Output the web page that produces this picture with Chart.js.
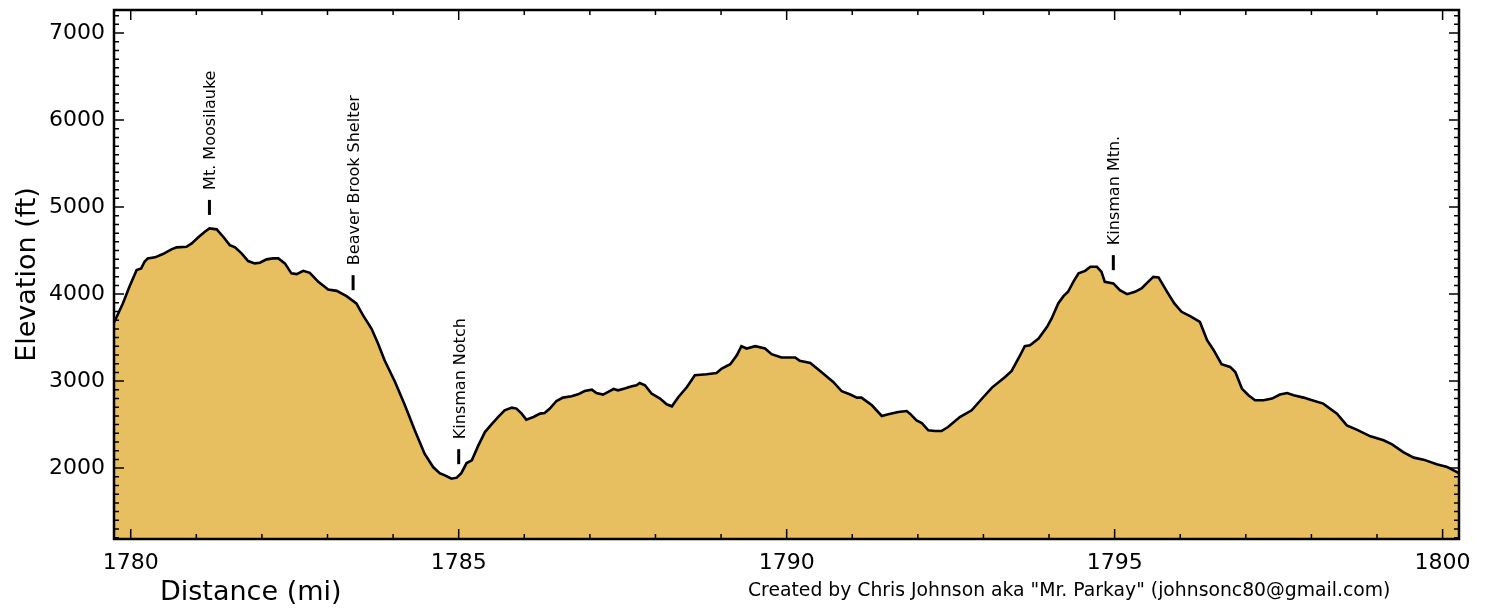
<!DOCTYPE html>
<html>
<head>
<meta charset="utf-8">
<script src="https://cdn.jsdelivr.net/npm/chart.js@4/dist/chart.umd.min.js"></script>
<style>
  html, body { margin: 0; padding: 0; background: #fff; }
  #wrap { width: 1494px; height: 610px; position: relative; }
</style>
</head>
<body>
<div id="wrap"><canvas id="profileChart"></canvas></div>
<script>
// trail profile, distance (mi) vs elevation (ft)
const miles = [
  1779.75, 1779.88, 1779.98, 1780.09, 1780.16, 1780.21, 1780.26, 1780.37, 1780.49, 1780.62,
  1780.70, 1780.85, 1780.93, 1781.03, 1781.13, 1781.20, 1781.31, 1781.41, 1781.51, 1781.59,
  1781.69, 1781.79, 1781.89, 1781.97, 1782.07, 1782.17, 1782.25, 1782.35, 1782.45, 1782.53,
  1782.63, 1782.73, 1782.86, 1783.01, 1783.14, 1783.29, 1783.44, 1783.54, 1783.67, 1783.77,
  1783.87, 1784.03, 1784.18, 1784.33, 1784.48, 1784.61, 1784.71, 1784.79, 1784.89, 1784.97,
  1785.04, 1785.12, 1785.20, 1785.30, 1785.40, 1785.50, 1785.60, 1785.70, 1785.81, 1785.88,
  1785.96, 1786.03, 1786.14, 1786.24, 1786.31, 1786.39, 1786.49, 1786.59, 1786.72, 1786.82,
  1786.92, 1787.03, 1787.10, 1787.20, 1787.28, 1787.36, 1787.43, 1787.53, 1787.64, 1787.71,
  1787.76, 1787.84, 1787.94, 1788.07, 1788.17, 1788.25, 1788.35, 1788.48, 1788.60, 1788.78,
  1788.93, 1789.01, 1789.14, 1789.24, 1789.31, 1789.39, 1789.52, 1789.67, 1789.77, 1789.92,
  1790.13, 1790.20, 1790.36, 1790.51, 1790.71, 1790.84, 1790.97, 1791.07, 1791.14, 1791.30,
  1791.45, 1791.55, 1791.70, 1791.83, 1791.88, 1791.98, 1792.06, 1792.16, 1792.26, 1792.36,
  1792.46, 1792.64, 1792.82, 1793.00, 1793.13, 1793.33, 1793.43, 1793.56, 1793.63, 1793.71,
  1793.84, 1793.97, 1794.04, 1794.14, 1794.22, 1794.29, 1794.37, 1794.45, 1794.55, 1794.63,
  1794.73, 1794.80, 1794.85, 1794.98, 1795.08, 1795.19, 1795.31, 1795.41, 1795.51, 1795.59,
  1795.67, 1795.80, 1795.91, 1796.02, 1796.15, 1796.30, 1796.41, 1796.51, 1796.63, 1796.76,
  1796.84, 1796.94, 1797.04, 1797.14, 1797.27, 1797.40, 1797.52, 1797.63, 1797.73, 1797.88,
  1798.01, 1798.18, 1798.39, 1798.54, 1798.69, 1798.90, 1799.10, 1799.23, 1799.40, 1799.56,
  1799.71, 1799.91, 1800.07, 1800.22, 1800.26
];
const elevation = [
  3680, 3892, 4083, 4276, 4295, 4371, 4410, 4422, 4460, 4514,
  4537, 4544, 4583, 4652, 4716, 4755, 4744, 4659, 4563, 4537,
  4468, 4379, 4353, 4360, 4399, 4410, 4410, 4353, 4238, 4229,
  4267, 4244, 4141, 4053, 4037, 3976, 3892, 3758, 3604, 3432,
  3240, 2990, 2722, 2434, 2166, 2012, 1942, 1916, 1878, 1890,
  1942, 2058, 2089, 2261, 2414, 2503, 2587, 2664, 2695, 2684,
  2626, 2557, 2587, 2626, 2633, 2684, 2771, 2810, 2825, 2848,
  2886, 2902, 2863, 2845, 2875, 2909, 2894, 2914, 2940, 2952,
  2978, 2952, 2856, 2799, 2733, 2710, 2817, 2932, 3067, 3078,
  3093, 3144, 3194, 3297, 3401, 3374, 3401, 3374, 3309, 3271,
  3271, 3232, 3209, 3116, 2990, 2883, 2845, 2810, 2810, 2722,
  2599, 2618, 2645, 2656, 2626, 2549, 2518, 2434, 2426, 2426,
  2472, 2587, 2664, 2817, 2925, 3047, 3116, 3297, 3401, 3412,
  3489, 3623, 3720, 3892, 3976, 4026, 4141, 4238, 4267, 4314,
  4314, 4256, 4141, 4122, 4045, 3999, 4026, 4065, 4141, 4198,
  4191, 4026, 3892, 3796, 3746, 3680, 3470, 3355, 3194, 3163,
  3105, 2914, 2837, 2779, 2779, 2799, 2845, 2863, 2837, 2810,
  2779, 2741, 2626, 2491, 2442, 2365, 2319, 2273, 2184, 2120,
  2097, 2043, 2012, 1954, 1939
];

// landmarks along the trail
const landmarkNames = ['Mt. Moosilauke', 'Beaver Brook Shelter', 'Kinsman Notch', 'Kinsman Mtn.'];
const landmarkMiles = [1781.2, 1783.39, 1785.0, 1794.98];
const landmarkElev = [4910, 4045, 2045, 4275];

// axis ticks
const xTicks = [1780, 1785, 1790, 1795, 1800];
const yTicks = [2000, 3000, 4000, 5000, 6000, 7000];

const FONT = '"DejaVu Sans", "Liberation Sans", sans-serif';

const points = miles.map(function(m, i) { return {x: m, y: elevation[i]}; });

// frame, inward ticks, landmark labels and captions
const profilePlugin = {
    id: 'profileExtras',
    afterDatasetsDraw(chart) {
        const ctx = chart.ctx;
        const a = chart.chartArea;
        const x = chart.scales.x;
        const y = chart.scales.y;
        ctx.save();

        // minor + major ticks on all four sides
        ctx.strokeStyle = '#000';
        ctx.lineWidth = 1.5;
        ctx.beginPath();
        for (let m = xTicks[0]; m <= xTicks[xTicks.length - 1]; m++) {
            const px = x.getPixelForValue(m);
            const len = xTicks.includes(m) ? 10 : 5;
            ctx.moveTo(px, a.bottom); ctx.lineTo(px, a.bottom - len);
            ctx.moveTo(px, a.top); ctx.lineTo(px, a.top + len);
        }
        for (let e = 1200; e <= 7200; e += 100) {
            const py = y.getPixelForValue(e);
            const len = yTicks.includes(e) ? 10 : 5;
            ctx.moveTo(a.left, py); ctx.lineTo(a.left + len, py);
            ctx.moveTo(a.right, py); ctx.lineTo(a.right - len, py);
        }
        ctx.stroke();

        ctx.lineWidth = 2.5;
        ctx.strokeRect(a.left, a.top, a.right - a.left, a.bottom - a.top);

        // landmark markers
        ctx.fillStyle = '#000';
        ctx.font = '16px ' + FONT;
        ctx.textAlign = 'left';
        ctx.textBaseline = 'alphabetic';
        for (let i = 0; i < landmarkNames.length; i++) {
            const px = x.getPixelForValue(landmarkMiles[i]);
            const py = y.getPixelForValue(landmarkElev[i]);
            ctx.lineWidth = 3;
            ctx.beginPath();
            ctx.moveTo(px, py);
            ctx.lineTo(px, py - 15);
            ctx.stroke();
            ctx.save();
            ctx.translate(px + 6, py - 25);
            ctx.rotate(-Math.PI / 2);
            ctx.fillText(landmarkNames[i], 0, 0);
            ctx.restore();
        }

        // axis caption + credit
        ctx.font = '27px ' + FONT;
        ctx.fillText('Distance (mi)', 160, 600);
        ctx.font = '18.8px ' + FONT;
        ctx.fillText('Created by Chris Johnson aka "Mr. Parkay" (johnsonc80@gmail.com)', 748, 596);
        ctx.restore();
    }
};

const config = {
    type: 'line',
    data: {
        datasets: [{
            data: points,
            borderColor: '#000',
            borderWidth: 2.6,
            backgroundColor: 'rgb(232, 191, 96)',
            fill: 'start',
            pointRadius: 0,
            tension: 0
        }]
    },
    options: {
        responsive: true,
        maintainAspectRatio: false,
        animation: false,
        devicePixelRatio: 1,
        layout: { padding: { top: 10, right: 35, bottom: 0, left: 0 } },
        plugins: { legend: { display: false }, tooltip: { enabled: false } },
        scales: {
            x: {
                type: 'linear',
                min: 1779.745,
                max: 1800.25,
                afterFit: function(s) { s.height = 71; s.paddingLeft = 0; s.paddingRight = 0; },
                afterBuildTicks: function(s) { s.ticks = xTicks.map(function(v) { return {value: v}; }); },
                grid: { display: false, drawTicks: false },
                border: { display: false },
                ticks: {
                    padding: 11,
                    color: '#000',
                    font: { family: FONT, size: 22 },
                    maxRotation: 0,
                    callback: function(v) { return String(v); }
                }
            },
            y: {
                min: 1185,
                max: 7265,
                afterFit: function(s) { s.width = 114; s.paddingTop = 0; s.paddingBottom = 0; },
                afterBuildTicks: function(s) { s.ticks = yTicks.map(function(v) { return {value: v}; }); },
                grid: { display: false, drawTicks: false },
                border: { display: false },
                title: {
                    display: true,
                    text: 'Elevation (ft)',
                    color: '#000',
                    font: { family: FONT, size: 27 },
                    padding: { top: 12, bottom: 0 }
                },
                ticks: {
                    padding: 9,
                    color: '#000',
                    font: { family: FONT, size: 22 },
                    callback: function(v) { return String(v); }
                }
            }
        }
    },
    plugins: [profilePlugin]
};

const myProfileChart = new Chart(document.getElementById('profileChart'), config);
</script>
</body>
</html>
